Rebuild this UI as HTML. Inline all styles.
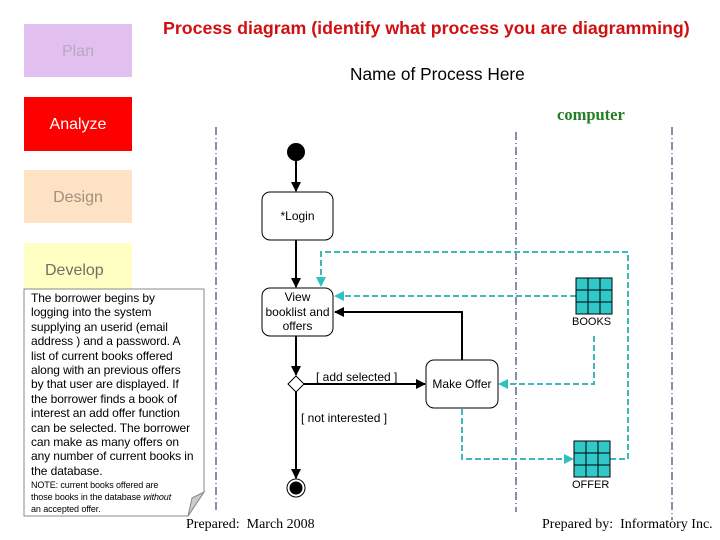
<!DOCTYPE html>
<html><head><style>
body{margin:0;width:720px;height:540px;background:#fff;overflow:hidden;position:relative;font-family:"Liberation Sans",sans-serif}
.b{position:absolute;left:24px;width:108px;font-size:16px}
.t{position:absolute;white-space:nowrap}
</style></head><body>
<div class="b" style="top:24px;height:53px;background:#e1c0ef;color:#b8a8c0;text-align:center;line-height:56px">Plan</div>
<div class="b" style="top:97px;height:54px;background:#ff0000;color:#fff;text-align:center;line-height:56px">Analyze</div>
<div class="b" style="top:170px;height:53px;background:#fde3c4;color:#a09080;text-align:center;line-height:55px">Design</div>
<div class="b" style="top:243px;height:50px;background:#ffffc4;color:#707060;line-height:56px;padding-left:21px;width:87px">Develop</div>
<div class="t" style="left:163px;top:18px;font-size:17.8px;font-weight:bold;color:#d01010">Process diagram (identify what process you are diagramming)</div>
<div class="t" style="left:350px;top:64px;font-size:17.3px">Name of Process Here</div>
<div class="t" style="left:557px;top:105px;font-size:16.5px;font-weight:bold;color:#208020;font-family:'Liberation Serif',serif">computer</div>
<svg style="position:absolute;left:0;top:0" width="720" height="540">
<defs>
<marker id="a" markerWidth="10" markerHeight="10" refX="9" refY="5" orient="auto" markerUnits="userSpaceOnUse"><path d="M0,0L10,5L0,10z" fill="#000"/></marker>
<marker id="c" markerWidth="10" markerHeight="10" refX="9" refY="5" orient="auto" markerUnits="userSpaceOnUse"><path d="M0,0L10,5L0,10z" fill="#30c0c0"/></marker>
</defs>
<g stroke="#1a1a60" stroke-width="1" stroke-dasharray="8,3,1,3">
<line x1="216" y1="127" x2="216" y2="512"/><line x1="516" y1="132" x2="516" y2="512"/><line x1="672" y1="127" x2="672" y2="520"/>
</g>
<path d="M24,289H204V492L188,516H24Z" fill="#fff" stroke="#888"/>
<path d="M188,516L192,498L204,492Z" fill="#ccc" stroke="#888"/>
<circle cx="296" cy="152" r="9" fill="#000"/>
<g stroke="#000" stroke-width="2" fill="none">
<line x1="296" y1="161" x2="296" y2="191" marker-end="url(#a)"/>
<line x1="296" y1="240" x2="296" y2="287" marker-end="url(#a)"/>
<line x1="296" y1="336" x2="296" y2="375" marker-end="url(#a)"/>
<line x1="304" y1="384" x2="425" y2="384" marker-end="url(#a)"/>
<polyline points="462,360 462,312 335,312" marker-end="url(#a)"/>
<line x1="296" y1="392" x2="296" y2="478" marker-end="url(#a)"/>
</g>
<rect x="262" y="192" width="71" height="48" rx="8" fill="#fff" stroke="#000"/>
<rect x="262" y="288" width="71" height="48" rx="8" fill="#fff" stroke="#000"/>
<rect x="426" y="360" width="72" height="48" rx="8" fill="#fff" stroke="#000"/>
<path d="M296,376L304,384L296,392L288,384Z" fill="#fff" stroke="#000"/>
<circle cx="296" cy="488" r="9" fill="#fff" stroke="#000"/>
<circle cx="296" cy="488" r="6.5" fill="#000"/>
<g stroke="#40b8b8" stroke-width="2" fill="none" stroke-dasharray="6,3">
<polyline points="610,459 628,459 628,252 321,252 321,286" marker-end="url(#c)"/>
<line x1="576" y1="296" x2="335" y2="296" marker-end="url(#c)"/>
<polyline points="594,336 594,384 499,384" marker-end="url(#c)"/>
<polyline points="462,409 462,459 573,459" marker-end="url(#c)"/>
</g>
<g stroke="#000" fill="#30c8c8">
<rect x="576" y="278" width="36" height="36"/><path d="M588,278V314M600,278V314M576,290H612M576,302H612" fill="none"/>
<rect x="574" y="441" width="36" height="36"/><path d="M586,441V477M598,441V477M574,453H610M574,465H610" fill="none"/>
</g>
</svg>
<div class="t" style="left:262px;top:290px;width:71px;text-align:center;font-size:12px;line-height:14.5px">View<br>booklist and<br>offers</div>
<div class="t" style="left:262px;top:209px;width:71px;text-align:center;font-size:12px">*Login</div>
<div class="t" style="left:426px;top:377px;width:72px;text-align:center;font-size:12px">Make Offer</div>
<div class="t" style="left:316px;top:370px;font-size:12px">[ add selected ]</div>
<div class="t" style="left:301px;top:411px;font-size:12px">[ not interested ]</div>
<div class="t" style="left:572px;top:316px;font-size:11px">BOOKS</div>
<div class="t" style="left:572px;top:479px;font-size:11px">OFFER</div>
<div style="position:absolute;left:31px;top:291px;width:172px;font-size:12px;line-height:14.4px;letter-spacing:-0.1px">The borrower begins by<br>logging into the system<br>supplying an userid (email<br>address ) and a password. A<br>list of current books offered<br>along with an previous offers<br>by that user are displayed. If<br>the borrower finds a book of<br>interest an add offer function<br>can be selected. The borrower<br>can make as many offers on<br>any number of current books in<br>the database.<div style="font-size:9px;line-height:12px;margin-top:1px">NOTE: current books offered are<br>those books in the database <i>without</i><br>an accepted offer.</div></div>
<div class="t" style="left:186px;top:517px;font-size:14px;font-family:'Liberation Serif',serif">Prepared:&nbsp; March 2008</div>
<div class="t" style="left:542px;top:517px;font-size:14px;font-family:'Liberation Serif',serif">Prepared by:&nbsp; Informatory Inc.</div>
</body></html>
